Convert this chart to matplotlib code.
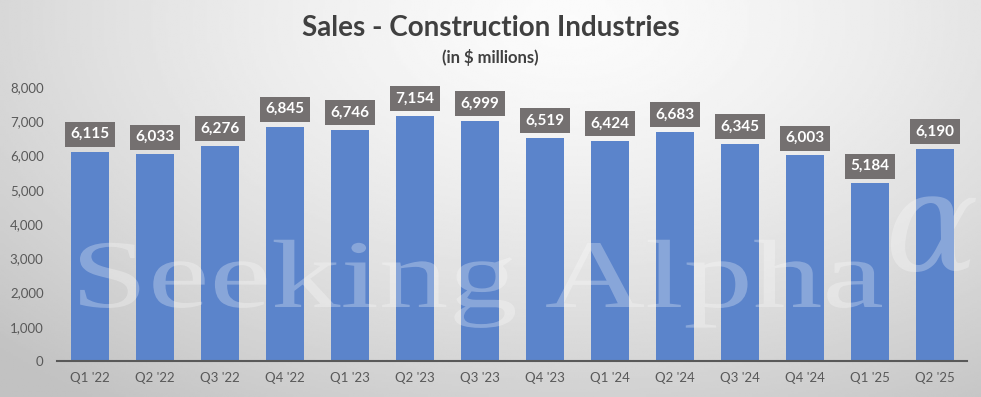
import numpy as np
import matplotlib.pyplot as plt
from matplotlib.textpath import TextPath
from matplotlib.patches import PathPatch
from matplotlib.font_manager import FontProperties
from matplotlib.transforms import Affine2D

quarters = ["Q1 '22", "Q2 '22", "Q3 '22", "Q4 '22", "Q1 '23", "Q2 '23", "Q3 '23",
            "Q4 '23", "Q1 '24", "Q2 '24", "Q3 '24", "Q4 '24", "Q1 '25", "Q2 '25"]
sales = [6115, 6033, 6276, 6845, 6746, 7154, 6999,
         6519, 6424, 6683, 6345, 6003, 5184, 6190]
yticks = [0, 1000, 2000, 3000, 4000, 5000, 6000, 7000, 8000]
watermark = "Seeking Alpha"

BAR = "#5b84cb"
BOX = "#747070"
TXT = "#595959"
W, H = 981, 397

fig = plt.figure(figsize=(9.81, 3.97), dpi=100)

# soft radial background, light at top centre, grey at the edges
bg = fig.add_axes([0, 0, 1, 1], zorder=0)
gx, gy = np.meshgrid(np.linspace(0, 1, 400), np.linspace(0, 1, 200))
r = np.sqrt(((gx - 0.58) / 0.75) ** 2 + ((gy - 0.95) / 1.1) ** 2)
shade = np.clip(0.985 - 0.2 * r ** 1.4, 0.76, 1)
bg.imshow(shade, cmap="gray", vmin=0, vmax=1, extent=[0, 1, 0, 1],
          origin="lower", aspect="auto")
bg.axis("off")

ax = fig.add_axes([0.0586, 0.0907, 0.9276, 0.690], zorder=1)
ax.patch.set_alpha(0)

x = np.arange(len(quarters))
ax.bar(x, sales, width=0.585, color=BAR, zorder=2)

for xi, v in zip(x, sales):
    ax.annotate(f"{v:,}", (xi, v), xytext=(0, 12.5), textcoords="offset points",
                ha="center", va="center", color="white", fontsize=11,
                fontweight="bold", family="Lato",
                bbox=dict(boxstyle="square,pad=0.36", fc=BOX, ec="none"),
                zorder=4)

ax.set_xlim(-0.5, len(quarters) - 0.5)
ax.set_ylim(0, 8000)
ax.set_xticks(x)
ax.set_xticklabels(quarters)
ax.set_yticks(yticks)
ax.set_yticklabels([f"{t:,}" for t in yticks])
ax.tick_params(axis="both", length=0, colors=TXT, labelsize=9.5)
ax.tick_params(axis="x", pad=8)
ax.tick_params(axis="y", pad=10)
for lab in ax.get_xticklabels() + ax.get_yticklabels():
    lab.set_family("Lato")
for s in ["top", "right", "left"]:
    ax.spines[s].set_visible(False)
ax.spines["bottom"].set_color(TXT)
ax.spines["bottom"].set_linewidth(1.5)
ax.spines["bottom"].set_zorder(3)

# watermark: wide serif lettering stretched across the plot
serif = FontProperties(family="Liberation Serif")
tp = TextPath((0, 0), watermark, size=1, prop=serif)
ext = tp.get_extents()
cap = TextPath((0, 0), "A", size=1, prop=serif).get_extents().y1
sx = (882 - 80) / ext.width
sy = 64 / cap
tr = (Affine2D().translate(-ext.x0, 0).scale(sx, sy).translate(80, H - 307)
      .scale(1 / W, 1 / H) + fig.transFigure)
fig.patches.append(PathPatch(tp, transform=tr, fc="white", ec="none",
                             alpha=0.28, zorder=3))
fig.text(884 / W, 1 - 270 / H, "\u03b1", fontsize=100, family="DejaVu Serif",
         style="italic", color="white", alpha=0.28, ha="left", va="baseline",
         zorder=3)

fig.text(0.5, 0.93, "Sales - Construction Industries", ha="center", va="center",
         fontsize=20, fontweight="bold", color="#404040", family="Lato")
fig.text(0.5, 0.855, "(in $ millions)", ha="center", va="center",
         fontsize=12, fontweight="bold", color="#404040", family="Lato")

fig.savefig("out.png", dpi=100)
